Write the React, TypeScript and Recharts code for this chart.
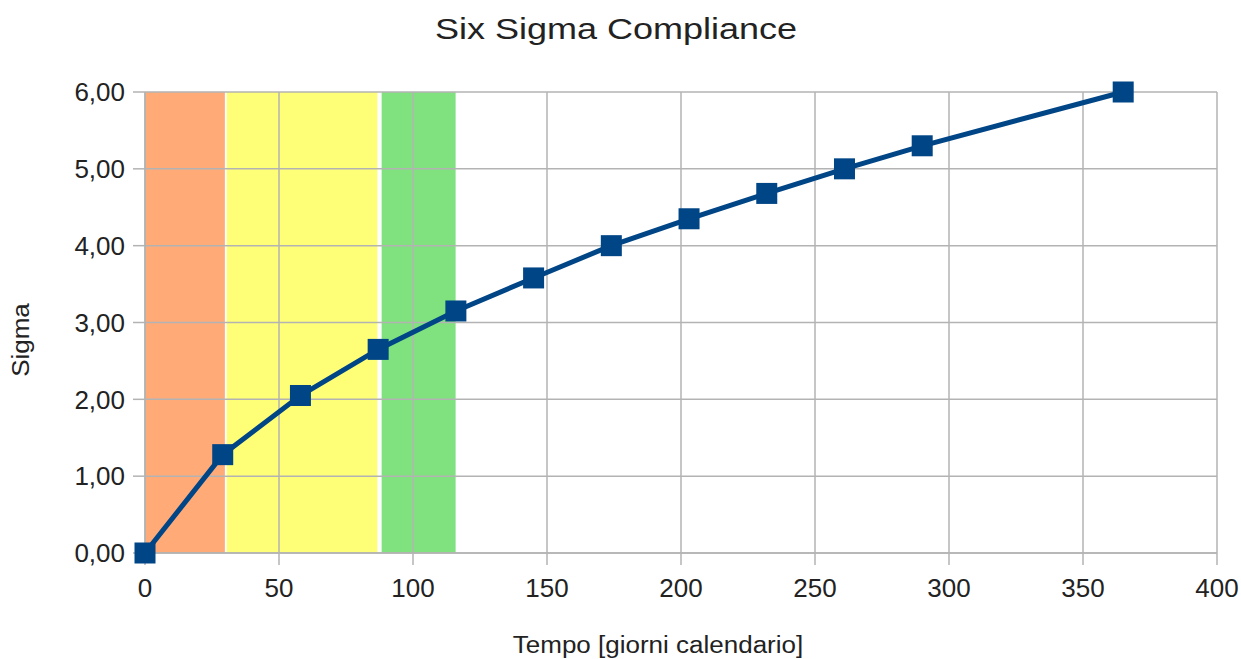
import React from "react";
import {
  LineChart,
  Line,
  XAxis,
  YAxis,
  CartesianGrid,
  ReferenceArea,
} from "recharts";

// days since start
const days = [0, 29, 58, 87, 116, 145, 174, 203, 232, 261, 290, 365];
// sigma level reached
const sigma = [0, 1.28, 2.05, 2.65, 3.15, 3.58, 4.0, 4.35, 4.68, 5.0, 5.3, 6.0];

const xTicks = [0, 50, 100, 150, 200, 250, 300, 350, 400];
const yTicks = [0, 1, 2, 3, 4, 5, 6];

// coloured phases on the time axis [from, to, colour]
const phases: [number, number, string][] = [
  [0, 29.8, "#ffaa77"],
  [30.5, 86.7, "#ffff77"],
  [88.3, 115.9, "#7fe27f"],
];

const data = days.map((d, i) => ({ day: d, sigma: sigma[i] }));

const FONT = '"Liberation Sans", Arial, sans-serif';
const GRID = "#b3b3b3";
const BLUE = "#004586";

const SquareDot = (props: any) => {
  const { cx, cy, index } = props;
  if (cx == null || cy == null) return null;
  return <rect key={index} x={cx - 10.5} y={cy - 10.5} width={21} height={21} fill={BLUE} />;
};

const fmt = (v: number) => v.toFixed(2).replace(".", ",");

const labelStyle: React.CSSProperties = {
  position: "absolute",
  fontFamily: FONT,
  lineHeight: 1,
  whiteSpace: "nowrap",
  color: "#222",
};

export default function App() {
  return (
    <div style={{ position: "relative", width: 1241, height: 659, background: "#fff" }}>
      <style>{`body{margin:0}`}</style>
      <LineChart
        width={1241}
        height={659}
        data={data}
        margin={{ top: 92, right: 24, bottom: 66, left: 0 }}
      >
        {phases.map(([a, b, c], i) => (
          <ReferenceArea
            key={i}
            x1={a}
            x2={b}
            y1={0}
            y2={6}
            fill={c}
            fillOpacity={1}
            stroke="none"
            zIndex={-200}
          />
        ))}
        <CartesianGrid stroke={GRID} strokeWidth={1.5} />
        <XAxis
          dataKey="day"
          type="number"
          domain={[0, 400]}
          ticks={xTicks}
          height={40}
          tickSize={12}
          tickMargin={14}
          axisLine={{ stroke: GRID, strokeWidth: 1.5 }}
          tickLine={{ stroke: GRID, strokeWidth: 1.5 }}
          tick={{ fill: "#222", fontSize: 26, fontFamily: FONT }}
        />
        <YAxis
          type="number"
          domain={[0, 6]}
          ticks={yTicks}
          width={145}
          tickSize={12}
          tickMargin={8}
          tickFormatter={fmt}
          axisLine={{ stroke: GRID, strokeWidth: 1.5 }}
          tickLine={{ stroke: GRID, strokeWidth: 1.5 }}
          tick={{ fill: "#222", fontSize: 26, fontFamily: FONT }}
        />
        <Line
          dataKey="sigma"
          stroke={BLUE}
          strokeWidth={5}
          dot={<SquareDot />}
          activeDot={false}
          isAnimationActive={false}
        />
      </LineChart>
      <div
        style={{
          ...labelStyle,
          fontSize: 30,
          left: 616,
          top: 29,
          transform: "translate(-50%, -50%) scaleX(1.2)",
        }}
      >
        Six Sigma Compliance
      </div>
      <div
        style={{
          ...labelStyle,
          fontSize: 23,
          left: 658,
          top: 645,
          transform: "translate(-50%, -50%) scaleX(1.13)",
        }}
      >
        Tempo [giorni calendario]
      </div>
      <div
        style={{
          ...labelStyle,
          fontSize: 23,
          left: 21,
          top: 340,
          transform: "translate(-50%, -50%) rotate(-90deg) scaleX(1.13)",
        }}
      >
        Sigma
      </div>
    </div>
  );
}
